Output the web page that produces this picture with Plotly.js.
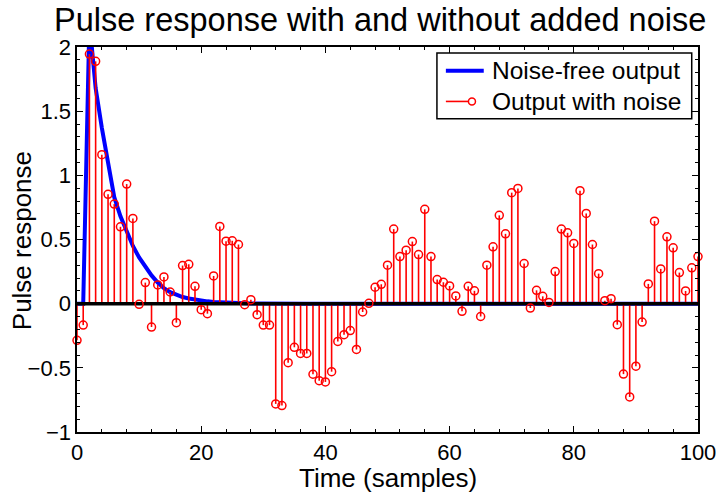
<!DOCTYPE html>
<html>
<head>
<meta charset="utf-8">
<script src="https://cdn.plot.ly/plotly-3.0.1.min.js"></script>
<style>html,body{margin:0;padding:0;background:#fff;}#chart{width:720px;height:501px;}</style>
</head>
<body>
<div id="chart"></div>
<script>
// Sample index (time in samples)
const samples = [];
for (let i = 0; i <= 100; i++) samples.push(i);

// Noise-free pulse response
const noiseFree = [
  0, 0, 2.2, 1.68, 1.37, 1.08, 0.83, 0.68, 0.56, 0.45,
  0.36, 0.29, 0.22, 0.165, 0.12, 0.09, 0.068, 0.052, 0.04, 0.031,
  0.024, 0.018, 0.013, 0.01, 0.007, 0.005, 0.004, 0.003, 0.002, 0.001,
  0, 0, 0, 0, 0, 0, 0, 0, 0, 0,
  0, 0, 0, 0, 0, 0, 0, 0, 0, 0,
  0, 0, 0, 0, 0, 0, 0, 0, 0, 0,
  0, 0, 0, 0, 0, 0, 0, 0, 0, 0,
  0, 0, 0, 0, 0, 0, 0, 0, 0, 0,
  0, 0, 0, 0, 0, 0, 0, 0, 0, 0,
  0, 0, 0, 0, 0, 0, 0, 0, 0, 0,
  0
];

// Output with noise
const withNoise = [
  -0.286, -0.167, 1.945, 1.888, 1.161, 0.852, 0.776, 0.599, 0.932, 0.664,
  -0.005, 0.164, -0.182, 0.146, 0.208, 0.091, -0.148, 0.297, 0.307, 0.135,
  -0.047, -0.078, 0.216, 0.602, 0.487, 0.490, 0.461, -0.008, 0.031, -0.086,
  -0.167, -0.167, -0.781, -0.794, -0.46, -0.34, -0.388, -0.388, -0.55, -0.60,
  -0.61, -0.53, -0.294, -0.242, -0.21, -0.357, -0.065, 0.003, 0.128, 0.151,
  0.30, 0.581, 0.367, 0.417, 0.484, 0.383, 0.735, 0.367, 0.188, 0.167,
  0.138, 0.06, -0.06, 0.135, 0.10, -0.10, 0.30, 0.443, 0.688, 0.544,
  0.865, 0.898, 0.313, -0.034, 0.104, 0.057, 0.01, 0.25, 0.581, 0.552,
  0.469, 0.880, 0.703, 0.461, 0.234, 0.023, 0.039, -0.164, -0.549, -0.727,
  -0.487, -0.143, 0.154, 0.643, 0.271, 0.521, 0.435, 0.242, 0.099, 0.279,
  0.367
];

const xTickVals = [0, 20, 40, 60, 80, 100];
const yTickVals = [-1, -0.5, 0, 0.5, 1, 1.5, 2];

const titleText = 'Pulse response with and without added noise';
const xLabel = 'Time (samples)';
const yLabel = 'Pulse response';
const legendNames = ['Noise-free output', 'Output with noise'];

// Build stem segments from the data
const stemX = [], stemY = [];
samples.forEach((s, i) => { stemX.push(s, s, null); stemY.push(0, withNoise[i], null); });

const FONT = 'Liberation Sans, Arial, Helvetica, sans-serif';

const traces = [
  { x: samples, y: noiseFree, type: 'scatter', mode: 'lines',
    line: { color: '#0000ff', width: 4 }, hoverinfo: 'skip', showlegend: false },
  { x: stemX, y: stemY, type: 'scatter', mode: 'lines',
    line: { color: '#ff0000', width: 1.6 }, hoverinfo: 'skip', showlegend: false },
  { x: [samples[0], samples[samples.length - 1]], y: [0, 0], type: 'scatter', mode: 'lines',
    line: { color: '#000000', width: 3.5 }, hoverinfo: 'skip', showlegend: false },
  { x: samples, y: withNoise, type: 'scatter', mode: 'markers',
    marker: { symbol: 'circle-open', size: 8, color: '#ff0000', line: { color: '#ff0000', width: 1.5 } },
    cliponaxis: false, hoverinfo: 'skip', showlegend: false }
];

// custom legend (MATLAB style)
const lgY1 = 0.9384, lgY2 = 0.8586;
const shapes = [
  { type: 'rect', xref: 'paper', yref: 'paper', x0: 0.5796, x1: 0.9899, y0: 0.8136, y1: 0.9844,
    line: { color: '#000', width: 1.5 }, fillcolor: '#fff', layer: 'above' },
  { type: 'line', xref: 'paper', yref: 'paper', x0: 0.594, x1: 0.655, y0: lgY1, y1: lgY1,
    line: { color: '#0000ff', width: 4 }, layer: 'above' },
  { type: 'line', xref: 'paper', yref: 'paper', x0: 0.594, x1: 0.631, y0: lgY2, y1: lgY2,
    line: { color: '#ff0000', width: 1.6 }, layer: 'above' },
  { type: 'circle', xref: 'paper', yref: 'paper', xsizemode: 'pixel', ysizemode: 'pixel',
    xanchor: 0.636, yanchor: lgY2, x0: -3.5, x1: 3.5, y0: -3.5, y1: 3.5,
    line: { color: '#ff0000', width: 1.5 }, fillcolor: 'rgba(0,0,0,0)', layer: 'above' }
];
const annotations = [
  { xref: 'paper', yref: 'paper', x: 0.6649, y: lgY1, xanchor: 'left', yanchor: 'middle',
    text: legendNames[0], showarrow: false, font: { family: FONT, size: 24.5, color: '#000' } },
  { xref: 'paper', yref: 'paper', x: 0.6649, y: lgY2, xanchor: 'left', yanchor: 'middle',
    text: legendNames[1], showarrow: false, font: { family: FONT, size: 24.5, color: '#000' } },
  // axis titles
  { xref: 'paper', yref: 'paper', x: 0.5, y: -0.119, xanchor: 'center', yanchor: 'middle',
    text: xLabel, showarrow: false, font: { family: FONT, size: 26, color: '#000' } },
  { xref: 'paper', yref: 'paper', x: -0.0896, y: 0.4965, xanchor: 'center', yanchor: 'middle',
    textangle: -90, text: yLabel, showarrow: false, font: { family: FONT, size: 26, color: '#000' } }
];

const axisCommon = {
  showline: true, linecolor: '#000', linewidth: 1.6, mirror: 'ticks',
  ticks: 'inside', ticklen: 6, tickwidth: 1.2, tickcolor: '#000',
  showgrid: false, zeroline: false, fixedrange: true,
  tickfont: { family: FONT, size: 22, color: '#000' }
};

const layout = {
  width: 720, height: 501,
  margin: { l: 77, r: 22, t: 47, b: 69 },
  paper_bgcolor: '#fff', plot_bgcolor: '#fff',
  showlegend: false,
  title: { text: titleText, font: { family: FONT, size: 32.5, color: '#000' },
    x: 0.528, xref: 'container', xanchor: 'center', y: 0.96, yref: 'container', yanchor: 'middle' },
  xaxis: Object.assign({}, axisCommon, {
    range: [0, 100], tickvals: xTickVals, ticktext: xTickVals.map(String),
    minor: { dtick: 4, tick0: 0, ticks: 'inside', ticklen: 3, tickwidth: 1, tickcolor: '#000', showgrid: false }
  }),
  yaxis: Object.assign({}, axisCommon, {
    range: [-1, 2], tickvals: yTickVals, ticktext: yTickVals.map(v => v < 0 ? '\u2212' + String(-v) : String(v)),
    minor: { dtick: 0.1, tick0: 0, ticks: 'inside', ticklen: 3, tickwidth: 1, tickcolor: '#000', showgrid: false }
  }),
  shapes: shapes,
  annotations: annotations
};

Plotly.newPlot('chart', traces, layout, { displayModeBar: false, staticPlot: true });
</script>
</body>
</html>
